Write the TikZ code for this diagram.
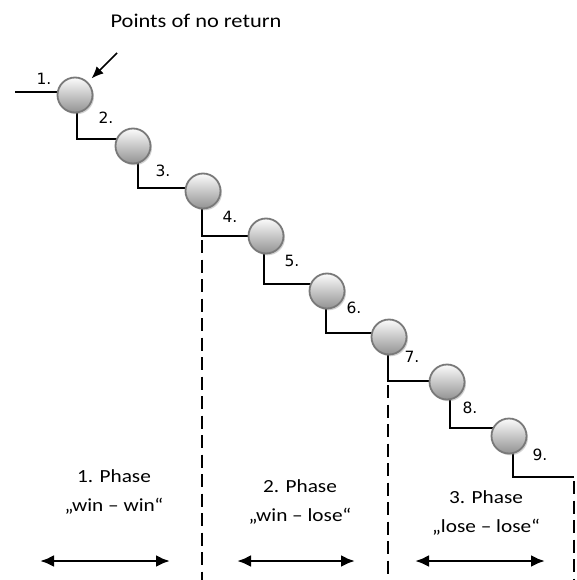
\documentclass[tikz,border=0pt]{standalone}
\usepackage{fontspec}
\setmainfont[FakeStretch=1.15]{Carlito}
\newfontfamily\numfont{DejaVu Sans}
\usetikzlibrary{arrows.meta,shadows}

\begin{document}
\begin{tikzpicture}[x=1pt,y=-1pt,
  stair/.style={line width=2.4pt, black},
  phaseline/.style={line width=2.6pt, black, dash pattern=on 13pt off 6.5pt, dash phase=-4pt},
  ball/.style={circle, minimum size=35pt, inner sep=0pt,
    draw=gray!95!black, line width=1.8pt,
    top color=white!97!gray, bottom color=gray!85,
    drop shadow={shadow xshift=1.5pt, shadow yshift=-1.8pt, opacity=0.35}},
  steplabel/.style={font=\numfont\fontsize{15.5}{18}\selectfont, text=black, inner sep=0pt},
  phasetext/.style={font=\fontsize{18.5}{29}\selectfont, text=black, align=center, inner sep=0pt},
  phasearrow/.style={line width=2.8pt, {Latex[length=14pt,width=12pt]}-{Latex[length=14pt,width=12pt]}},
  pointer/.style={line width=1.7pt, -{Latex[length=12pt,width=10pt]}}
]
\path[use as bounding box] (0,0) rectangle (577,580);
\coordinate (bot) at (0,580);

% corners of the staircase
\coordinate (s0) at (15,92);
\coordinate (c1) at (77,139);
\coordinate (c2) at (138,188);
\coordinate (c3) at (202,236);
\coordinate (c4) at (264,284);
\coordinate (c5) at (326,333);
\coordinate (c6) at (388,381);
\coordinate (c7) at (450,428);
\coordinate (c8) at (513,477);
\coordinate (e9) at (574,477);

% ball positions
\coordinate (p1) at (75,95);
\coordinate (p2) at (133,146);
\coordinate (p3) at (203,191);
\coordinate (p4) at (266,236);
\coordinate (p5) at (327,291);
\coordinate (p6) at (389,337);
\coordinate (p7) at (447,382);
\coordinate (p8) at (509,436);

% phase separators
\draw[phaseline] (c3) -- (c3 |- bot);
\draw[phaseline] (c6) -- (c6 |- bot);
\draw[phaseline] (e9) -- (e9 |- bot);

% staircase
\draw[stair] (s0) -- (s0 -| p1);
\draw[stair] (c1 |- p1) -- (c1) -- (c1 -| p2);
\draw[stair] (c2 |- p2) -- (c2) -- (c2 -| p3);
\draw[stair] (c3 |- p3) -- (c3) -- (c3 -| p4);
\draw[stair] (c4 |- p4) -- (c4) -- (c4 -| p5);
\draw[stair] (c5 |- p5) -- (c5) -- (c5 -| p6);
\draw[stair] (c6 |- p6) -- (c6) -- (c6 -| p7);
\draw[stair] (c7 |- p7) -- (c7) -- (c7 -| p8);
\draw[stair] (c8 |- p8) -- (c8) -- (e9);

% points of no return
\foreach \i in {1,...,8} \node[ball] (b\i) at (p\i) {};

% step numbers
\node[steplabel] (n1) at (44,79) {1.};
\node[steplabel] (n2) at (106,118) {2.};
\node[steplabel] (n3) at (163,171) {3.};
\node[steplabel] (n4) at (230,217) {4.};
\node[steplabel] (n5) at (292,261) {5.};
\node[steplabel] (n6) at (354,308) {6.};
\node[steplabel] (n7) at (412,357) {7.};
\node[steplabel] (n8) at (470,408) {8.};
\node[steplabel] (n9) at (540,455) {9.};

% caption with pointer
\node[font=\fontsize{19.5}{22}\selectfont, text=black, inner sep=0pt, anchor=base] (title) at (196,28) {Points of no return};
\coordinate (pa) at (117,53);
\draw[pointer, shorten >=5pt] (pa) -- (b1);

% phases
\node[phasetext] (ph1) at (114,492) {1. Phase\\„win – win“};
\node[phasetext] (ph2) at (300,502) {2. Phase\\„win – lose“};
\node[phasetext] (ph3) at (486,513) {3. Phase\\„lose – lose“};

\coordinate (a1l) at (40,561);  \coordinate (a1r) at (170,561);
\coordinate (a2l) at (237,561); \coordinate (a2r) at (355,561);
\coordinate (a3l) at (415,561); \coordinate (a3r) at (545,561);
\draw[phasearrow] (a1l) -- (a1r);
\draw[phasearrow] (a2l) -- (a2r);
\draw[phasearrow] (a3l) -- (a3r);
\end{tikzpicture}
\end{document}
